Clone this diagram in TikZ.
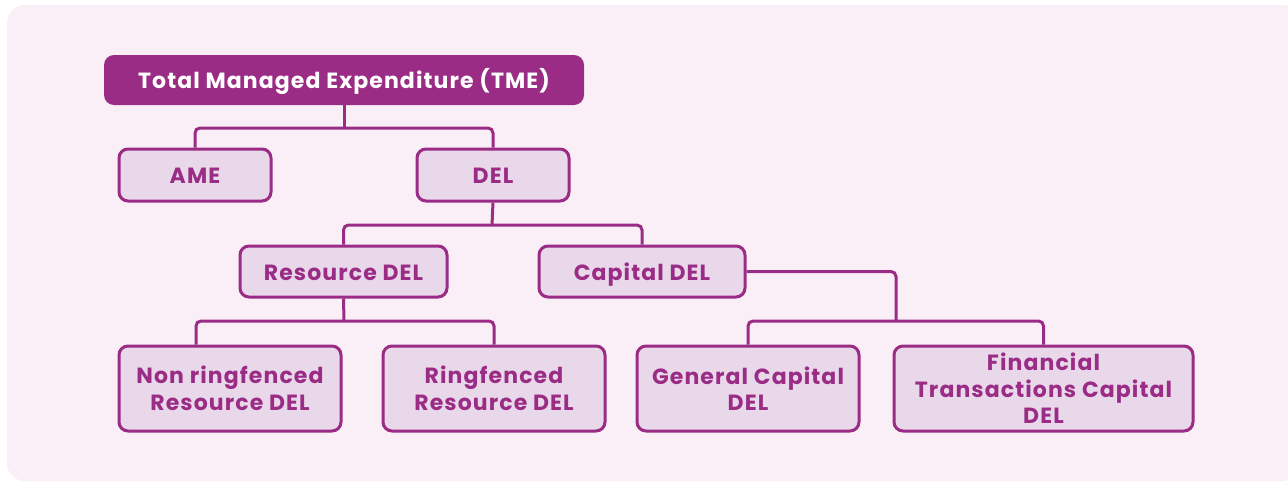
\documentclass[tikz,border=0pt]{standalone}
\usepackage{fontspec}
\setmainfont{Poppins}[LetterSpace=5]
\definecolor{bgpink}{HTML}{FAEFF7}
\definecolor{boxfill}{HTML}{E9D8EA}
\definecolor{plum}{HTML}{9A2C86}
\begin{document}
\begin{tikzpicture}[x=1pt,y=-1pt,
  txt/.style={font=\fontsize{22}{26.5}\selectfont\bfseries},
  oneline/.style={text height=17pt, text depth=0pt},
  bx/.style={txt, draw=plum, line width=3pt, fill=boxfill, rounded corners=9pt,
    text=plum, align=center, inner sep=0pt},
  topbox/.style={txt, oneline, fill=plum, rounded corners=10pt, text=white, inner sep=0pt},
  conn/.style={draw=plum, line width=3pt, rounded corners=5pt}]
\useasboundingbox (0,0) rectangle (1288,482);
\fill[white] (0,0) rectangle (1288,482);
\fill[bgpink, rounded corners=18pt] (7,5) rectangle (1300,481);
% nodes
\node[topbox, minimum width=480pt, minimum height=50pt] (tme) at (344,80) {Total Managed Expenditure (TME)};
\node[bx, oneline, minimum width=152pt, minimum height=52pt] (ame) at (195,175) {AME};
\node[bx, oneline, minimum width=152pt, minimum height=52pt] (del) at (493,175) {DEL};
\node[bx, oneline, minimum width=207pt, minimum height=51pt] (res) at (343.5,271.5) {Resource DEL};
\node[bx, oneline, minimum width=206pt, minimum height=51pt] (cap) at (642,271.5) {Capital DEL};
\node[bx, minimum width=222pt, minimum height=85pt] (nrf) at (230,388.5) {Non ringfenced\\Resource DEL};
\node[bx, minimum width=222pt, minimum height=85pt] (rf) at (494,388.5) {Ringfenced\\Resource DEL};
\node[bx, minimum width=222pt, minimum height=85pt] (gen) at (748,388.5) {General Capital\\DEL};
\node[bx, minimum width=299pt, minimum height=85pt] (fin) at (1043.5,388.5) {Financial\\Transactions Capital\\DEL};
% bus coordinates
\coordinate (b1) at (344,128);
\coordinate (b2) at (492,225);
\coordinate (b3) at (344,321);
\coordinate (b4) at (896,321);
% connectors
\draw[conn] (tme.south) -- (b1);
\draw[conn] (ame.north) |- (b1) -| (del.north);
\draw[conn] (del.south) -- (b2);
\draw[conn] (res.north) |- (b2) -| (cap.north);
\draw[conn] (res.south) -- (b3);
\draw[conn] (nrf.north -| 196,0) |- (b3) -| (rf.north);
\draw[conn] (cap.east) -| (b4);
\draw[conn] (gen.north) |- (b4) -| (fin.north);
\end{tikzpicture}
\end{document}
